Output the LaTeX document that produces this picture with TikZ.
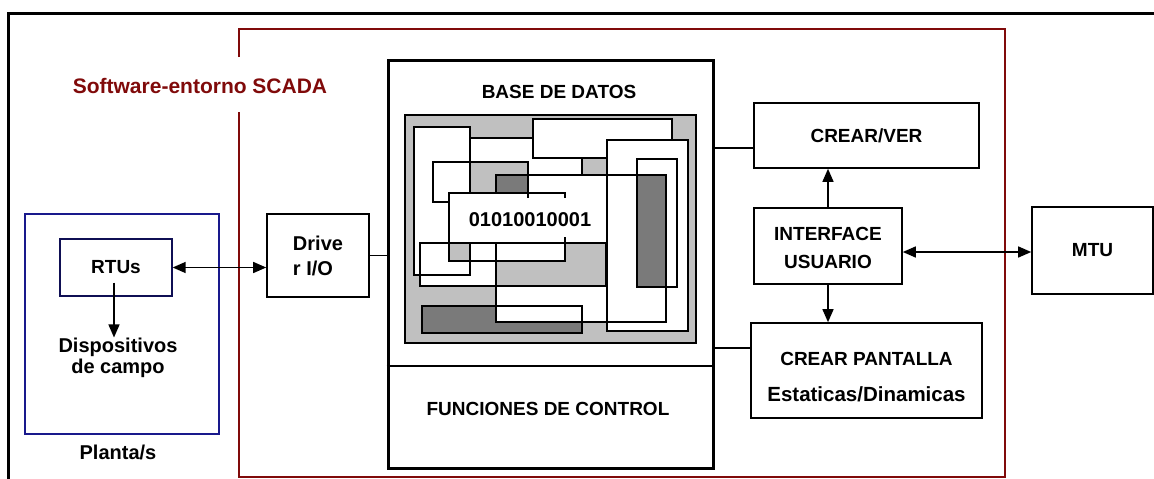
\documentclass[tikz,border=0pt]{standalone}
\usepackage{fontspec}
\setmainfont{Liberation Sans}
\usetikzlibrary{arrows.meta}
\definecolor{scadared}{RGB}{128,10,10}
\definecolor{plantblue}{RGB}{25,25,140}
\definecolor{dbgray}{RGB}{192,192,192}
\definecolor{dbdark}{RGB}{122,122,122}
\begin{document}
\begin{tikzpicture}[x=1pt,y=-1pt,line join=miter,
 >={Triangle[length=13pt,width=11pt]},
 box/.style={draw,line width=1.6pt,inner sep=0pt,align=center,font=\bfseries\fontsize{19}{28}\selectfont},
 lbl/.style={inner sep=0pt,align=center,font=\bfseries\fontsize{20}{21}\selectfont},
 wire/.style={line width=1.4pt},
 cell/.style={draw,line width=1.2pt}]
 \useasboundingbox (0,0) rectangle (1154,479);
 % frames
 \draw[line width=3pt] (8,482) -- (8,13) -- (1156,13);
 \draw[scadared,line width=1.2pt] (239,57) -- (239,29) -- (1005,29) -- (1005,477) -- (239,477) -- (239,112);
 \node[lbl,text=scadared,font=\bfseries\fontsize{21}{21}\selectfont] (sw) at (200,86) {Software-entorno SCADA};
 \node[draw=plantblue,line width=1.5pt,minimum width=194pt,minimum height=220pt,inner sep=0pt] (planta) at (122,324) {};
 \node[lbl] (plantalbl) at (118,452) {Planta/s};
 \node[box,draw=plantblue!60!black,line width=1.3pt,minimum width=112pt,minimum height=57pt] (rtu) at (116,267.5) {RTUs};
 \node[lbl] (dev) at (118,357.5) {Dispositivos\\de campo};
 \node[box,minimum width=102pt,minimum height=83pt,align=left,font=\bfseries\fontsize{20}{25}\selectfont] (drv) at (318,255.5) {Drive\\r I/O};
 % core
 \node[draw,line width=3pt,minimum width=325pt,minimum height=408pt,inner sep=0pt] (core) at (550.5,264) {};
 \draw[line width=1.6pt] (core.west |- 0,366) -- (core.east |- 0,366);
 \node[lbl,font=\bfseries\fontsize{19}{19}\selectfont] (bdd) at (559,92) {BASE DE DATOS};
 \node[lbl,font=\bfseries\fontsize{19}{19}\selectfont] (fctl) at (548,409) {FUNCIONES DE CONTROL};
 % database collage
 \fill[dbgray] (405,115) rectangle (696,343);
 \fill[white] (414,127) rectangle (470,275) (533,119) rectangle (672,158)
 (470,138) rectangle (582,175) (433,162) rectangle (528,202)
 (496,175) rectangle (666,322) (607,140) rectangle (688,331)
 (420,243) rectangle (606,286) (449,193) rectangle (565,261);
 \fill[dbgray] (470,162) rectangle (528,193) (450,243) rectangle (470,261)
 (496,261) rectangle (606,286) (565,243) rectangle (606,261);
 \fill[dbdark] (496,175) rectangle (528,193) (637,175) rectangle (666,287)
 (422,306) rectangle (496,333) (496,322) rectangle (582,333);
 \draw[cell] (405,115) rectangle (696,343);
 \draw[cell] (470,243) -- (470,275) -- (414,275) -- (414,127) -- (470,127) -- (470,193);
 \draw[cell] (672,140) -- (672,119) -- (533,119) -- (533,158) -- (607,158);
 \draw[cell] (533,138) -- (470,138) (582,158) -- (582,175);
 \draw[cell] (449,202) -- (433,202) -- (433,162) -- (528,162) -- (528,198);
 \draw[cell] (496,193) -- (496,175) -- (666,175) -- (666,322) -- (496,322) -- (496,243);
 \draw[cell] (607,140) rectangle (688,331) (637,159) rectangle (677,287)
 (420,243) rectangle (606,286) (422,306) rectangle (582,333);
 \draw[cell] (565,198) -- (565,193) -- (449,193) -- (449,261) -- (565,261) -- (565,237);
 \node[lbl] (bits) at (530,220) {01010010001};
 % user side
 \node[box,minimum width=225pt,minimum height=65pt] (crearver) at (866.5,135.5) {CREAR/VER};
 \node[box,minimum width=148pt,minimum height=76pt] (iface) at (828,246) {\rule{0pt}{17pt}INTERFACE\\USUARIO};
 \node[box,minimum width=231pt,minimum height=95pt] (pantalla) at (866.5,370.5) {\rule{0pt}{27pt}CREAR PANTALLA\\[8pt]{\fontsize{20.5}{24}\selectfont Estaticas/Dinamicas}};
 \node[box,minimum width=121pt,minimum height=87pt] (mtu) at (1092.5,250.5) {MTU};
 % connectors
 \draw[wire,<->] (rtu.east) -- (rtu.east -| drv.west);
 \draw[wire,->] ([xshift=-2pt,yshift=14pt]rtu.south) -- ([xshift=-2pt]rtu.south |- dev.north);
 \draw[wire] (drv.east) -- (drv.east -| core.west);
 \draw[wire] ([yshift=-12.5pt]crearver.west) -- ([yshift=-12.5pt]crearver.west -| core.east);
 \draw[wire] ([yshift=22.5pt]pantalla.west) -- ([yshift=22.5pt]pantalla.west -| core.east);
 \draw[wire,->] (iface.north) -- (iface.north |- crearver.south);
 \draw[wire,->] (iface.south) -- (iface.south |- pantalla.north);
 \draw[wire,<->] ([yshift=-6pt]iface.east) -- ([yshift=-6pt]iface.east -| mtu.west);
\end{tikzpicture}
\end{document}
